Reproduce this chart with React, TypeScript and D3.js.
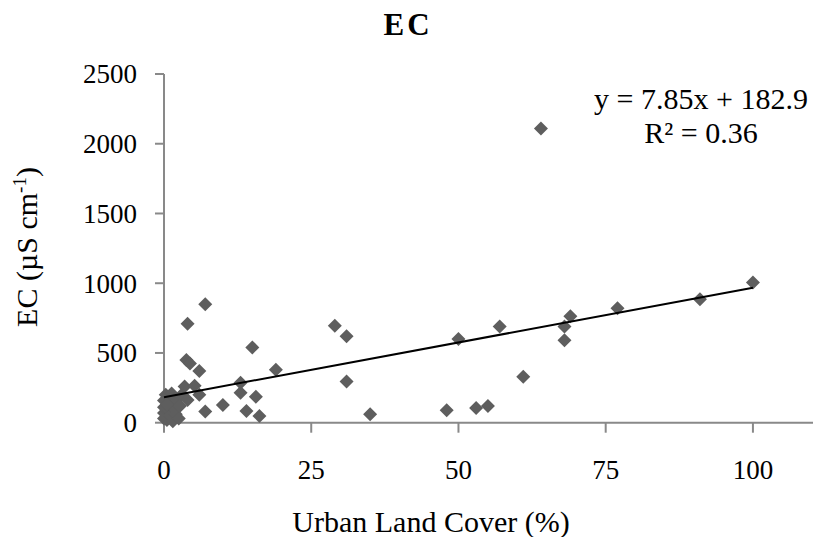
import React, { useEffect, useRef } from 'react';
import * as d3 from 'd3';

// Urban land cover (%) and EC (µS cm-1)
const urbanCover = [
  0, 0, 0, 0, 0.3, 0.5, 0.8, 1, 1, 1.3, 1.5, 1.8, 2, 2, 2.5, 2.7, 3, 0.5,
  3.5, 4, 5.2, 6, 3.8, 4.4, 4, 6, 7, 7, 10, 13, 13, 14, 15, 15.6, 16.2, 19,
  29, 31, 31, 35, 48, 50, 53, 55, 57, 61, 64, 68, 68, 69, 77, 91, 100
];
const ecValues = [
  30, 70, 110, 160, 200, 20, 90, 140, 50, 210, 10, 100, 170, 60, 30, 120, 200, 130,
  260, 163, 265, 200, 450, 425, 710, 370, 850, 80, 127, 287, 215, 84, 540, 186, 48, 380,
  695, 620, 295, 60, 90, 600, 105, 120, 690, 330, 2110, 592, 690, 763, 820, 885, 1005
];

const xTicks = [0, 25, 50, 75, 100];
const yTicks = [0, 500, 1000, 1500, 2000, 2500];
const slope = 7.85;
const intercept = 182.9;

const App = () => {
  const svgRef = useRef(null);

  useEffect(() => {
    const width = 815;
    const height = 537;
    const svg = d3.select(svgRef.current);
    svg.selectAll('*').remove();
    svg.attr('width', width).attr('height', height);

    const font = '"Liberation Serif", "Times New Roman", serif';
    const axisColor = '#898989';

    const x = d3.scaleLinear().domain([0, 110.2]).range([164, 813]);
    const y = d3.scaleLinear().domain([0, 2500]).range([422.7, 74]);

    // title
    svg.append('text')
      .attr('x', 408)
      .attr('y', 35)
      .attr('text-anchor', 'middle')
      .style('font-family', font)
      .style('font-size', '31px')
      .style('font-weight', 'bold')
      .style('letter-spacing', '3px')
      .style('fill', '#000')
      .text('EC');

    // axes lines
    svg.append('line')
      .attr('x1', x(0)).attr('x2', x(110.2))
      .attr('y1', y(0)).attr('y2', y(0))
      .attr('stroke', axisColor).attr('stroke-width', 2);
    svg.append('line')
      .attr('x1', x(0)).attr('x2', x(0))
      .attr('y1', y(0)).attr('y2', y(2500))
      .attr('stroke', axisColor).attr('stroke-width', 2);

    // x ticks
    svg.selectAll('.xtick')
      .data(xTicks)
      .enter()
      .append('line')
      .attr('x1', d => x(d)).attr('x2', d => x(d))
      .attr('y1', y(0)).attr('y2', y(0) + 10)
      .attr('stroke', axisColor).attr('stroke-width', 2);

    svg.selectAll('.xlabel')
      .data(xTicks)
      .enter()
      .append('text')
      .attr('x', d => x(d))
      .attr('y', 479)
      .attr('text-anchor', 'middle')
      .style('font-family', font)
      .style('font-size', '27px')
      .style('fill', '#000')
      .text(d => d);

    // y ticks
    svg.selectAll('.ytick')
      .data(yTicks)
      .enter()
      .append('line')
      .attr('x1', x(0) - 9).attr('x2', x(0))
      .attr('y1', d => y(d)).attr('y2', d => y(d))
      .attr('stroke', axisColor).attr('stroke-width', 2);

    svg.selectAll('.ylabel')
      .data(yTicks)
      .enter()
      .append('text')
      .attr('x', 137)
      .attr('y', d => y(d))
      .attr('dy', '0.35em')
      .attr('text-anchor', 'end')
      .style('font-family', font)
      .style('font-size', '27px')
      .style('fill', '#000')
      .text(d => d);

    // axis titles
    svg.append('text')
      .attr('x', 431)
      .attr('y', 532)
      .attr('text-anchor', 'middle')
      .style('font-family', font)
      .style('font-size', '30px')
      .style('fill', '#000')
      .text('Urban Land Cover (%)');

    const yTitle = svg.append('text')
      .attr('transform', 'translate(37, 247) rotate(-90)')
      .attr('text-anchor', 'middle')
      .style('font-family', font)
      .style('font-size', '30px')
      .style('fill', '#000');
    yTitle.append('tspan').text('EC (µS cm');
    yTitle.append('tspan').attr('dy', -11).style('font-size', '19px').text('-1');
    yTitle.append('tspan').attr('dy', 11).text(')');

    // points
    const pts = urbanCover.map((u, i) => ({ u, ec: ecValues[i] }));
    const r = 7;
    svg.selectAll('.pt')
      .data(pts)
      .enter()
      .append('path')
      .attr('d', d => {
        const cx = x(d.u);
        const cy = y(d.ec);
        return `M${cx},${cy - r}L${cx + r},${cy}L${cx},${cy + r}L${cx - r},${cy}Z`;
      })
      .attr('fill', '#5e5e5e');

    // trendline
    svg.append('line')
      .attr('x1', x(0)).attr('y1', y(intercept))
      .attr('x2', x(100)).attr('y2', y(slope * 100 + intercept))
      .attr('stroke', '#000').attr('stroke-width', 2);

    // equation
    svg.append('text')
      .attr('x', 701).attr('y', 109)
      .attr('text-anchor', 'middle')
      .style('font-family', font)
      .style('font-size', '30px')
      .style('fill', '#000')
      .text(`y = ${slope}x + ${intercept}`);
    svg.append('text')
      .attr('x', 701).attr('y', 143)
      .attr('text-anchor', 'middle')
      .style('font-family', font)
      .style('font-size', '30px')
      .style('fill', '#000')
      .text('R² = 0.36');
  }, []);

  return <svg ref={svgRef} style={{ position: 'absolute', left: 0, top: 0 }}></svg>;
};

export default App;
